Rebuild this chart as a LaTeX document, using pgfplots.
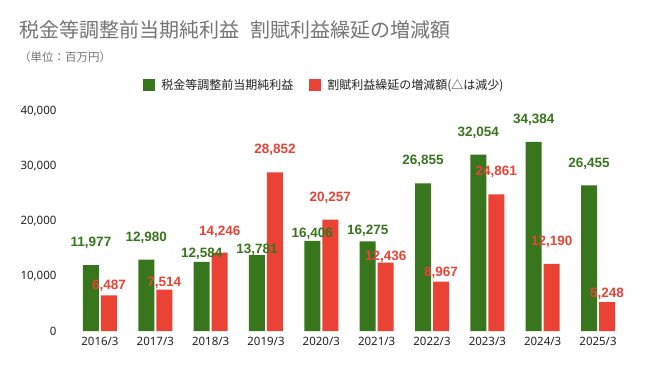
\documentclass[border=0pt]{standalone}
\usepackage{fontspec}
\setmainfont{Noto Sans}
\newfontfamily\numfont{Liberation Sans}
\newfontfamily\jp{Noto Sans CJK JP}
\usepackage{pgfplots}
\usepackage{pgfplotstable}
\pgfplotsset{compat=1.18}
\definecolor{cgreen}{HTML}{38761D}
\definecolor{cred}{HTML}{EA4335}
\definecolor{ctitle}{HTML}{757575}
\definecolor{ctick}{HTML}{222222}

\pgfplotstableread{
x g r
0 11977 6487
1 12980 7514
2 12584 14246
3 13781 28852
4 16406 20257
5 16275 12436
6 26855 8967
7 32054 24861
8 34384 12190
9 26455 5248
}\datatbl

% label positions (y in data units) and values
\pgfplotstableread{
x gy ry g r
0 16000 8182 11977 6487
1 16909 8727 12980 7514
2 14000 18000 12584 14246
3 14727 32909 13781 28852
4 17636 24182 16406 20257
5 18182 13455 16275 12436
6 30909 10545 26855 8967
7 36000 28909 32054 24861
8 38364 16182 34384 12190
9 30364 6727 26455 5248
}\labtbl

\begin{document}
\begin{tikzpicture}
\path[use as bounding box, fill=white] (0,0) rectangle (651bp,371bp);
\node[anchor=west, text=ctitle, font=\jp\fontsize{20bp}{22bp}\selectfont, inner sep=0pt] at (19bp,341bp) {税金等調整前当期純利益\hspace{0.55em}割賦利益繰延の増減額};
\node[anchor=west, text=ctitle, font=\jp\fontsize{11.5bp}{13bp}\selectfont, inner sep=0pt] at (19bp,314bp) {（単位：百万円）};
\begin{axis}[
  at={(70bp,40bp)}, anchor=south west,
  scale only axis, width=558bp, height=220bp,
  xmin=-0.542, xmax=9.542, ymin=0, ymax=40000,
  clip=false,
  axis line style={draw=none},
  major tick length=0pt,
  xtick={0,...,9},
  xticklabels={2016/3,2017/3,2018/3,2019/3,2020/3,2021/3,2022/3,2023/3,2024/3,2025/3},
  ytick={0,10000,20000,30000,40000},
  scaled y ticks=false,
  /pgf/number format/.cd, 1000 sep={,}, assume math mode=true, /pgfplots/.cd,
  yticklabel style={anchor=east, xshift=-10bp, text=ctick, font=\fontsize{11.5bp}{13bp}\selectfont},
  xticklabel style={yshift=-3bp, text=ctick, font=\fontsize{11.5bp}{13bp}\selectfont},
  legend columns=2,
  legend style={draw=none, fill=none, at={(0.456,1.118)}, anchor=center,
    font=\jp\fontsize{12bp}{14bp}\selectfont, text=ctick,
    /tikz/every odd column/.append style={column sep=4bp},
    /tikz/every even column/.append style={column sep=14bp}},
]
\addplot[ybar, bar width=16bp, bar shift=-9bp, fill=cgreen, draw=none,
  legend image code/.code={\fill[cgreen] (0bp,-6bp) rectangle (12bp,6bp);}]
  table[x=x, y=g] {\datatbl};
\addlegendentry{税金等調整前当期純利益}
\addplot[ybar, bar width=16bp, bar shift=9bp, fill=cred, draw=none,
  legend image code/.code={\fill[cred] (0bp,-6bp) rectangle (12bp,6bp);}]
  table[x=x, y=r] {\datatbl};
\addlegendentry{割賦利益繰延の増減額(△は減少)}

\addplot[draw=none, mark=none, forget plot, point meta=explicit,
  nodes near coords={\pgfmathprintnumber[fixed, precision=0, 1000 sep={,}]{\pgfplotspointmeta}},
  every node near coord/.style={anchor=center, xshift=-9bp, text=cgreen, font=\numfont\bfseries\fontsize{13.5bp}{15bp}\selectfont}]
  table[x=x, y=gy, meta=g] {\labtbl};
\addplot[draw=none, mark=none, forget plot, point meta=explicit,
  nodes near coords={\pgfmathprintnumber[fixed, precision=0, 1000 sep={,}]{\pgfplotspointmeta}},
  every node near coord/.style={anchor=center, xshift=9bp, text=cred, font=\numfont\bfseries\fontsize{13.5bp}{15bp}\selectfont}]
  table[x=x, y=ry, meta=r] {\labtbl};
\end{axis}
\end{tikzpicture}
\end{document}
